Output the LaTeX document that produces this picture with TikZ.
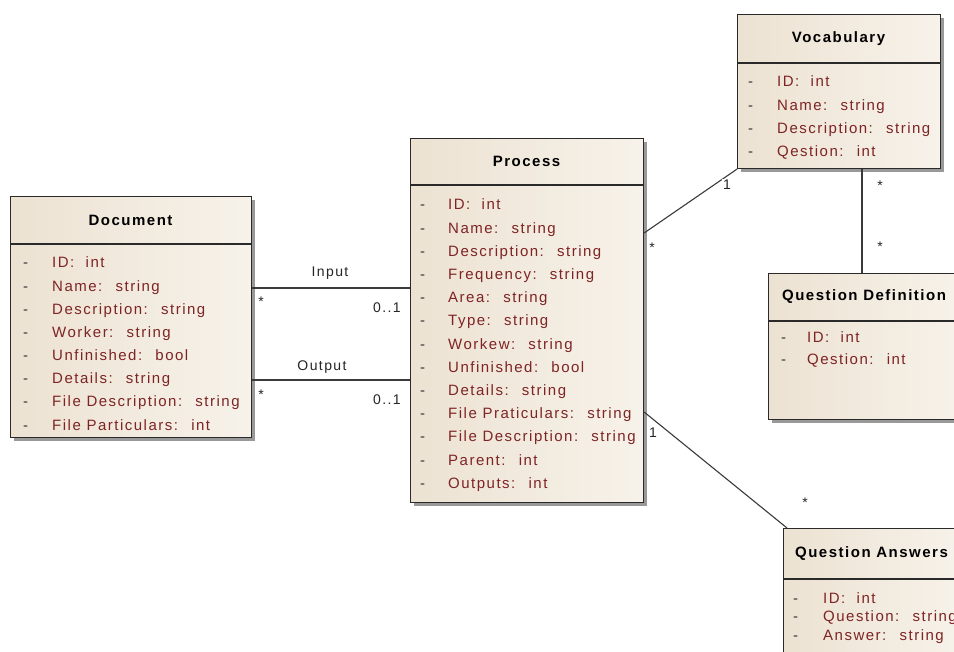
\documentclass[tikz,border=0pt]{standalone}
\usepackage{fontspec}
\setmainfont{Liberation Sans}[LetterSpace=10]
\usetikzlibrary{calc}
\definecolor{attrred}{HTML}{7E2424}
\definecolor{boxL}{HTML}{ECE2D2}
\definecolor{boxR}{HTML}{F7F2EA}
\definecolor{edgec}{HTML}{2A2A2A}
\definecolor{linec}{HTML}{3A3A3A}
\tikzset{
  umlbox/.style={draw=edgec, line width=1.1pt, left color=boxL, right color=boxR,
    rectangle, inner sep=0pt, anchor=north west},
  titletext/.style={font=\fontsize{15}{18}\selectfont\bfseries, text=black, inner sep=0pt},
  attr/.style={font=\fontsize{15}{18}\selectfont, text=attrred, inner sep=0pt, anchor=base west},
  dashmark/.style={font=\fontsize{15}{18}\selectfont, text=black!80, inner sep=0pt, anchor=base west},
  lbl/.style={font=\fontsize{14}{16}\selectfont, text=black!85, inner sep=1pt},
  lblw/.style={lbl, fill=white},
  conn/.style={draw=linec, line width=1.1pt},
}
% #1 name, #2 left, #3 top, #4 right, #5 bottom, #6 header y, #7 title
\newcommand\umlclass[7]{%
  \fill[black!40] (#2+4,#3+4) rectangle (#4+4,#5+4);
  \node[umlbox, minimum width={#4-#2}, minimum height={#5-#3}] (#1) at (#2,#3) {};
  \draw[draw=edgec, line width=1.1pt] (#2,#6) -- (#4,#6);
  \node[titletext] (#1-title) at ({(#2+#4)/2},{(#3+#6)/2}) {#7};
}
% #1 name prefix, #2 dash x, #3 text x, #4 first center y, #5 spacing, #6 list
\newcommand\attrlist[6]{%
  \foreach \t [count=\i from 0] in {#6} {
    \node[dashmark] (#1-d\i) at (#2,{#4+5+\i*#5}) {-};
    \node[attr] (#1-a\i) at (#3,{#4+5+\i*#5}) {\t};
  }
}
\begin{document}
\begin{tikzpicture}[x=1pt,y=-1pt]
\useasboundingbox (0,0) rectangle (954,652);
\clip (0,0) rectangle (954,652);
\fill[white] (0,0) rectangle (954,652);

% classes
\umlclass{doc}{10}{196}{251}{437}{244}{Document}
\attrlist{doc}{23}{52}{263}{23.15}{ID:~ int, Name:~ string, Description:~ string, Worker:~ string, Unfinished:~ bool, Details:~ string, File Description:~ string, File Particulars:~ int}

\umlclass{proc}{410}{138}{643}{502}{185}{Process}
\attrlist{proc}{420}{448}{205}{23.2}{ID:~ int, Name:~ string, Description:~ string, Frequency:~ string, Area:~ string, Type:~ string, Workew:~ string, Unfinished:~ bool, Details:~ string, File Praticulars:~ string, File Description:~ string, Parent:~ int, Outputs:~ int}

\umlclass{voc}{737}{14}{940}{168}{63}{Vocabulary}
\attrlist{voc}{748}{777}{82}{23.3}{ID:~ int, Name:~ string, Description:~ string, Qestion:~ int}

\umlclass{qd}{768}{273}{960}{419}{321}{Question Definition}
\attrlist{qd}{781}{807}{338}{22}{ID:~ int, Qestion:~ int}

\umlclass{qa}{783}{528}{960}{700}{579}{Question Answers}
\attrlist{qa}{793}{823}{598}{18.5}{ID:~ int, Question:~ string, Answer:~ string}

% helper coordinates
\coordinate (yin) at (0,288);
\coordinate (yout) at (0,380);
\coordinate (ypv) at (0,233);
\coordinate (ypq) at (0,412);
\coordinate (xvq) at (862,0);

% connectors
\draw[conn] (doc.east |- yin) -- (proc.west |- yin);
\draw[conn] (doc.east |- yout) -- (proc.west |- yout);
\draw[conn] (proc.east |- ypv) -- (voc.south west);
\draw[conn] (voc.south -| xvq) -- (qd.north -| xvq);
\draw[conn] (proc.east |- ypq) -- ([xshift=4pt]qa.north west);

% labels
\node[lbl] (lin) at (330,273) {Input};
\node[lbl] (lins) at (261,302) {*};
\node[lbl] (lin01) at (387,308) {0..1};
\node[lbl] (lout) at (322,367) {Output};
\node[lbl] (louts) at (261,395) {*};
\node[lbl] (lout01) at (387,400) {0..1};
\node[lblw] (lpv1) at (727,185) {1};
\node[lbl] (lpvs) at (652,248) {*};
\node[lbl] (lvq1) at (880,186) {*};
\node[lbl] (lvq2) at (880,247) {*};
\node[lblw] (lpq1) at (653,433) {1};
\node[lbl] (lpqs) at (805,503) {*};
\end{tikzpicture}
\end{document}
